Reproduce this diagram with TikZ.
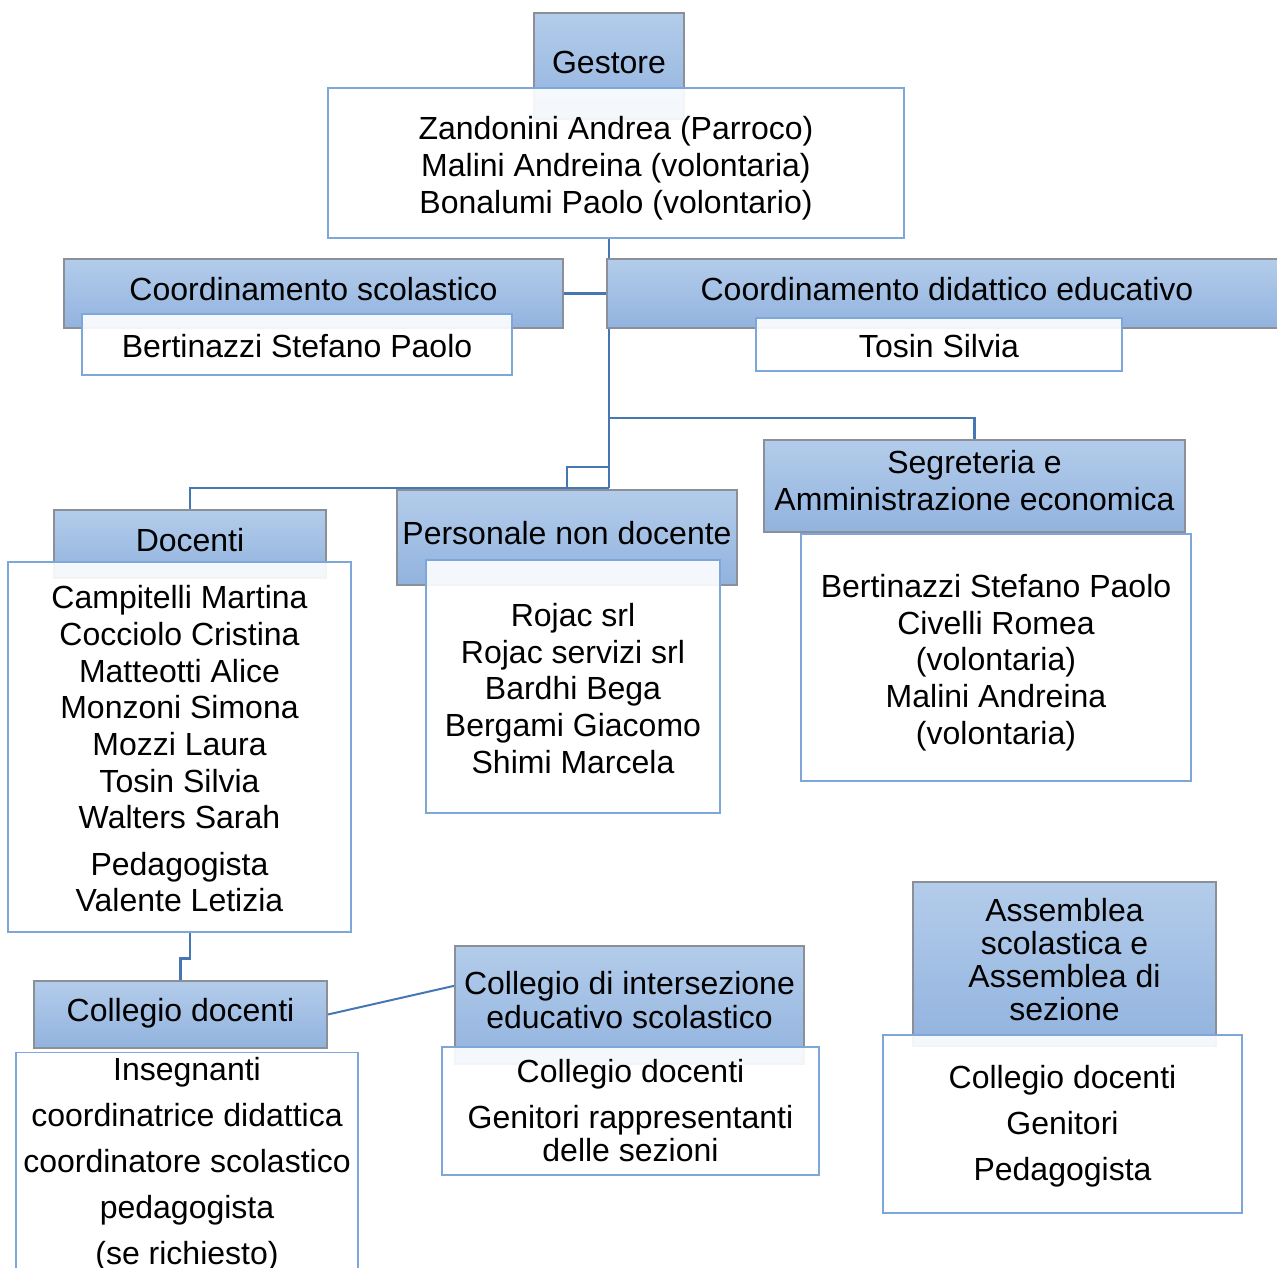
\documentclass[tikz,border=0pt]{standalone}
\usepackage{fontspec}
\setmainfont{Liberation Sans}
\usetikzlibrary{calc, positioning}
\definecolor{headtop}{HTML}{B3CCEA}
\definecolor{headbot}{HTML}{92B3DF}
\definecolor{headline}{HTML}{8B9098}
\definecolor{boxline}{HTML}{7DA7D9}
\definecolor{wireblue}{HTML}{4677B3}
\pgfdeclarelayer{bg}
\pgfsetlayers{bg,main}
% extra room above the first line of a box
\newcommand\bodylift[1]{\rule{0pt}{\dimexpr0.7\baselineskip+#1\relax}}

\begin{document}
\begin{tikzpicture}[x=1pt, y=-1pt,
    font=\fontsize{32}{36.7}\selectfont,
    head/.style={rectangle, draw=headline, line width=1.8pt, top color=headtop, bottom color=headbot,
        inner sep=0pt, align=center, execute at begin node=\strut, execute at end node=\strut},
    body/.style={rectangle, draw=boxline, line width=1.4pt, fill=white, fill opacity=0.9, text opacity=1,
        inner sep=0pt, align=center, execute at begin node={\rule{0pt}{38pt}}, execute at end node=\strut},
    wire/.style={draw=wireblue, line width=2.6pt}]
    \clip (0,0) rectangle (1277,1268);

    % top
    \node[head, minimum width=150, minimum height=106](gest) at (609,66) {Gestore};
    \node[body, minimum width=576, minimum height=150](gbody) at (616,163)
        {\bodylift{12pt}Zandonini Andrea (Parroco)\\Malini Andreina (volontaria)\\Bonalumi Paolo (volontario)};

    % coordinamento
    \node[head, minimum width=499, minimum height=69](cs) at (313.5,293.5) {Coordinamento scolastico};
    \node[body, minimum width=430, minimum height=61](csbody) at (297,344.5) {Bertinazzi Stefano Paolo};
    \node[head, minimum width=680, minimum height=69](cdid) at (947,293.5) {Coordinamento didattico educativo};
    \node[body, minimum width=366, minimum height=53](cdidbody) at (939,344.5) {Tosin Silvia};

    % segreteria
    \node[head, minimum width=421, minimum height=92](seg) at (974.5,486) {Segreteria e\\Amministrazione economica};
    \node[body, minimum width=390, minimum height=247](segbody) at (996,657.5)
        {\bodylift{12pt}Bertinazzi Stefano Paolo\\Civelli Romea\\(volontaria)\\Malini Andreina\\(volontaria)};

    % docenti
    \node[head, minimum width=272, minimum height=68](doc) at (190,544) {Docenti};
    \node[body, minimum width=343, minimum height=370](docbody) at (179.5,747)
        {\bodylift{12pt}Campitelli Martina\\Cocciolo Cristina\\Matteotti Alice\\Monzoni Simona\\Mozzi Laura\\Tosin Silvia\\Walters Sarah\\[9.5pt]Pedagogista\\Valente Letizia};

    % personale
    \node[head, minimum width=340, minimum height=95](pnd) at (567,537.5) {Personale non docente};
    \node[body, minimum width=294, minimum height=253](pbody) at (573,686.5)
        {\bodylift{12pt}Rojac srl\\Rojac servizi srl\\Bardhi Bega\\Bergami Giacomo\\Shimi Marcela};

    % collegi
    \node[head, minimum width=293, minimum height=67](cd) at (180.5,1014.5) {Collegio docenti};
    \node[body, minimum width=342, anchor=north, font=\fontsize{32}{46}\selectfont](cdbody) at (187,1052)
        {\bodylift{-4pt}Insegnanti\\coordinatrice didattica\\coordinatore scolastico\\pedagogista\\(se richiesto)};
    \node[head, minimum width=349, minimum height=118, font=\fontsize{32}{34}\selectfont](ci) at (629.5,1005)
        {Collegio di intersezione\\educativo scolastico};
    \node[body, minimum width=377, minimum height=128, font=\fontsize{32}{33}\selectfont](cibody) at (630.5,1111)
        {\bodylift{9pt}Collegio docenti\\[13pt]Genitori rappresentanti\\delle sezioni};

    % assemblea
    \node[head, minimum width=303, minimum height=164, font=\fontsize{32}{33}\selectfont](ass) at (1064.5,964)
        {Assemblea\\scolastica e\\Assemblea di\\sezione};
    \node[body, minimum width=359, minimum height=178, font=\fontsize{32}{46}\selectfont](asbody) at (1062.5,1124)
        {\bodylift{3pt}Collegio docenti\\Genitori\\Pedagogista};

    \begin{pgfonlayer}{bg}
        \coordinate (segfork) at (609,418);
        \coordinate (pfork) at (609,467);
        \coordinate (hub) at (609,488);
        \path[wire]
        (gbody.south -| gest) -- (hub)
        (cs.east) -- (cs.east -| gest)
        (segfork) -| (seg.north)
        (pfork) -| (pnd.north)
        (hub) -| (doc.north)
        (docbody.south -| doc) -- ++(0,26) -| (cd.north);
        \draw[wire, line width=2pt] (cd.east) -- ($(ci.north west)!0.34!(ci.south west)$);
    \end{pgfonlayer}
\end{tikzpicture}
\end{document}
